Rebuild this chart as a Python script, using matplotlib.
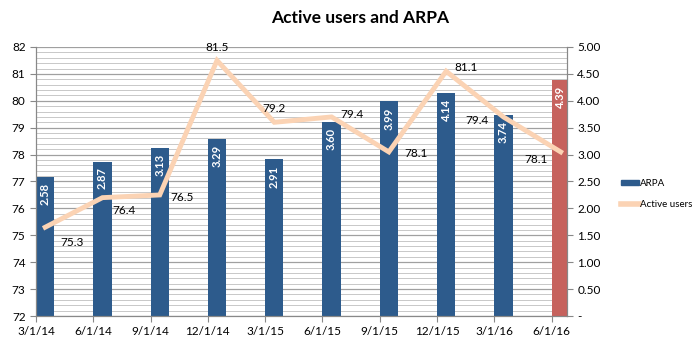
import matplotlib
matplotlib.use("Agg")
import matplotlib.pyplot as plt
from matplotlib.ticker import MultipleLocator, FuncFormatter
from matplotlib.lines import Line2D
from matplotlib.patches import Patch

plt.rcParams['font.family'] = ['Lato', 'DejaVu Sans']

# datos
fechas = ['3/1/14', '6/1/14', '9/1/14', '12/1/14', '3/1/15',
          '6/1/15', '9/1/15', '12/1/15', '3/1/16', '6/1/16']
arpa = [2.58, 2.87, 3.13, 3.29, 2.91, 3.60, 3.99, 4.14, 3.74, 4.39]
usuarios = [75.3, 76.4, 76.5, 81.5, 79.2, 79.4, 78.1, 81.1, 79.4, 78.1]

# desplazamiento de las etiquetas de la linea (pixeles)
desp_etiquetas = [(27, -15), (22, -13), (22, -3), (0, 13), (0, 14),
                  (20, 2), (27, -2), (20, 4), (-26, -4), (-25, -8)]

AZUL = '#2D5B8C'
ROJO = '#C6625D'
DURAZNO = '#FBD3B4'
ANCHO = 0.32

fig = plt.figure(figsize=(6.98, 3.43), dpi=100)
ax = fig.add_axes([0.0516, 0.0787, 0.7607, 0.7843])
ax2 = ax.twinx()

x = list(range(len(fechas)))
colores = [AZUL] * (len(arpa) - 1) + [ROJO]

# barras en el eje derecho
ax2.bar(x, arpa, width=ANCHO, align='edge', color=colores, zorder=2)
for i, v in enumerate(arpa):
    ax2.annotate(f'{v:.2f}', (i + ANCHO / 2, v), xytext=(0, -6),
                 textcoords='offset pixels', ha='center', va='top',
                 rotation=90, color='white', fontweight='bold', fontsize=8)

ax2.set_ylim(0, 5)
ax2.yaxis.set_major_locator(MultipleLocator(0.5))
ax2.yaxis.set_minor_locator(MultipleLocator(0.1))
ax2.yaxis.set_major_formatter(FuncFormatter(lambda v, p: '-' if v == 0 else f'{v:.2f}'))
ax2.grid(True, which='major', axis='y', color='#A0A0A0', linewidth=0.9)
ax2.grid(True, which='minor', axis='y', color='#C8C8C8', linewidth=0.7)
ax2.set_axisbelow(True)
ax2.tick_params(axis='y', which='minor', length=0)
ax2.tick_params(axis='y', which='major', length=4, color='#888888', labelsize=8.5)

# linea en el eje izquierdo, por encima de las barras
ax.set_zorder(ax2.get_zorder() + 1)
ax.patch.set_visible(False)
xl = [i + ANCHO / 2 for i in x]
ax.plot(xl, usuarios, color=DURAZNO, linewidth=3.5, solid_joinstyle='miter')
for i, v in enumerate(usuarios):
    ax.annotate(f'{v:.1f}', (xl[i], v), xytext=desp_etiquetas[i],
                textcoords='offset pixels', ha='center', va='center', fontsize=8.5)

ax.set_ylim(72, 82)
ax.yaxis.set_major_locator(MultipleLocator(1))
ax.tick_params(axis='y', length=4, color='#888888', labelsize=8.5)
ax.set_xlim(0, 9.27)
ax.set_xticks(x)
ax.set_xticklabels(fechas)
ax.tick_params(axis='x', length=4, color='#888888', labelsize=8.5)

for a in (ax, ax2):
    a.spines['top'].set_visible(False)
    for lado in ('left', 'right', 'bottom'):
        a.spines[lado].set_color('#888888')

fig.text(0.516, 0.948, 'Active users and ARPA', ha='center', va='center',
         fontsize=12.5, fontweight='bold')

manijas = [Patch(color=AZUL), Line2D([0], [0], color=DURAZNO, linewidth=4)]
fig.legend(manijas, ['ARPA', 'Active users'], loc='center left',
           bbox_to_anchor=(0.889, 0.435), frameon=False, fontsize=7,
           borderpad=0, borderaxespad=0,
           handlelength=1.9, handleheight=0.5, handletextpad=0.1, labelspacing=1.2)

fig.savefig('out.png', dpi=100)
